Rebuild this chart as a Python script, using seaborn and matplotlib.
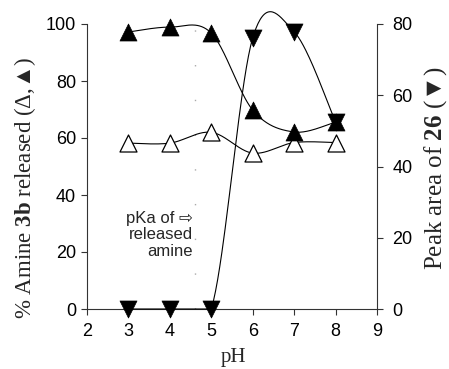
import numpy as np
import pandas as pd
import matplotlib
matplotlib.use("Agg")
import matplotlib.pyplot as plt
import seaborn as sns

# ---- data ----
ph = [3, 4, 5, 6, 7, 8]
amine_filled = [97.2, 98.9, 96.8, 69.8, 62.1, 65.6]   # filled up-triangles (left axis)
amine_open = [58.2, 58.2, 62.0, 54.7, 58.4, 58.4]     # open up-triangles (left axis)
peak_area = [0, 0, 0, 76.1, 77.8, 52.5]               # filled down-triangles (right axis)
pka_x = 4.6
x_ticks = [2, 3, 4, 5, 6, 7, 8, 9]
left_ticks = [0, 20, 40, 60, 80, 100]
right_ticks = [0, 20, 40, 60, 80]

sns.set_theme(style="ticks")
plt.rcParams["font.family"] = ["Liberation Sans", "DejaVu Sans"]
plt.rcParams["mathtext.fontset"] = "custom"
plt.rcParams["mathtext.rm"] = "Liberation Serif"
plt.rcParams["mathtext.bf"] = "Liberation Serif:bold"
plt.rcParams["axes.linewidth"] = 0.8


def smooth(x, y, sx, sy, n=40):
    """Excel-like Bezier smoothing computed in pixel space."""
    px = np.asarray(x, float) * sx
    py = np.asarray(y, float) * sy
    P = np.column_stack([px, py])
    out = []
    m = len(P)
    for i in range(m - 1):
        p0 = P[i]
        p3 = P[i + 1]
        prev = P[i - 1] if i > 0 else P[i]
        nxt = P[i + 2] if i + 2 < m else P[i + 1]
        c1 = p0 + (p3 - prev) / 6.0
        c2 = p3 - (nxt - p0) / 6.0
        t = np.linspace(0, 1, n)[:, None]
        seg = ((1 - t) ** 3) * p0 + 3 * ((1 - t) ** 2) * t * c1 + 3 * (1 - t) * t ** 2 * c2 + t ** 3 * p3
        out.append(seg if i == 0 else seg[1:])
    C = np.vstack(out)
    return C[:, 0] / sx, C[:, 1] / sy


fig = plt.figure(figsize=(4.49, 3.69), dpi=100)
W, H = 449, 369
ax = fig.add_axes([87 / W, 1 - 309 / H, (377 - 87) / W, 285 / H])
ax2 = ax.twinx()

sx = 290 / 7.0
sy_left = 285 / 100.0
sy_right = 285 / 80.0

# smoothed connecting curves
for yv, a, sy in [(amine_filled, ax, sy_left), (amine_open, ax, sy_left), (peak_area, ax2, sy_right)]:
    cx, cy = smooth(ph, yv, sx, sy)
    cy = np.maximum(cy, 0)
    sns.lineplot(x=cx, y=cy, ax=a, color="black", lw=0.8, sort=False, estimator=None,
                 zorder=2, clip_on=False)

# markers
sns.scatterplot(x=ph, y=amine_open, ax=ax, marker="^", s=150, facecolor="white",
                edgecolor="black", linewidth=0.9, zorder=4, clip_on=False)
sns.scatterplot(x=ph, y=amine_filled, ax=ax, marker="^", s=150, color="black",
                edgecolor="black", linewidth=0.5, zorder=4, clip_on=False)
sns.scatterplot(x=ph, y=peak_area, ax=ax2, marker="v", s=150, color="black",
                edgecolor="black", linewidth=0.5, zorder=4, clip_on=False)

# pKa dotted marker line
ax.axvline(pka_x, color="#aaaaaa", lw=1.0, linestyle=(0, (1, 24)), zorder=1)

ax.set_xlim(2, 9)
ax.set_ylim(0, 100)
ax2.set_ylim(0, 80)
ax.set_xticks(x_ticks)
ax.set_yticks(left_ticks)
ax2.set_yticks(right_ticks)

for a in (ax, ax2):
    a.spines["top"].set_visible(False)
    for s in a.spines.values():
        s.set_color("#333333")
        s.set_linewidth(0.8)
    a.tick_params(direction="out", length=4, width=0.8, color="#333333",
                  labelsize=13, pad=4, labelcolor="black")
ax.spines["right"].set_visible(False)
ax2.spines["left"].set_visible(False)
ax2.spines["bottom"].set_visible(False)
ax.tick_params(axis="x", pad=6)
ax2.tick_params(axis="y", pad=7)

serif = ["Liberation Serif", "DejaVu Serif"]
fig.text(233 / W, 1 - 348 / H, "pH", family=serif, fontsize=15, ha="center", va="top")
fig.text(25 / W, 1 - 188 / H, "% Amine $\\mathbf{3b}$ released (\u0394,\u25B2)",
         family=serif, fontsize=16.5, rotation=90, ha="center", va="center")
fig.text(436 / W, 1 - 168 / H, "Peak area of $\\mathbf{26}$ (\u25BC)",
         family=serif, fontsize=18, rotation=90, ha="center", va="center")

ax.text(4.56, 34.5, "pKa of \u21E8\nreleased\namine", ha="right", va="top",
        fontsize=12, linespacing=1.15, family=["Liberation Sans", "DejaVu Sans"],
        transform=ax.transData)

fig.savefig("out.png", dpi=100, facecolor="white")
